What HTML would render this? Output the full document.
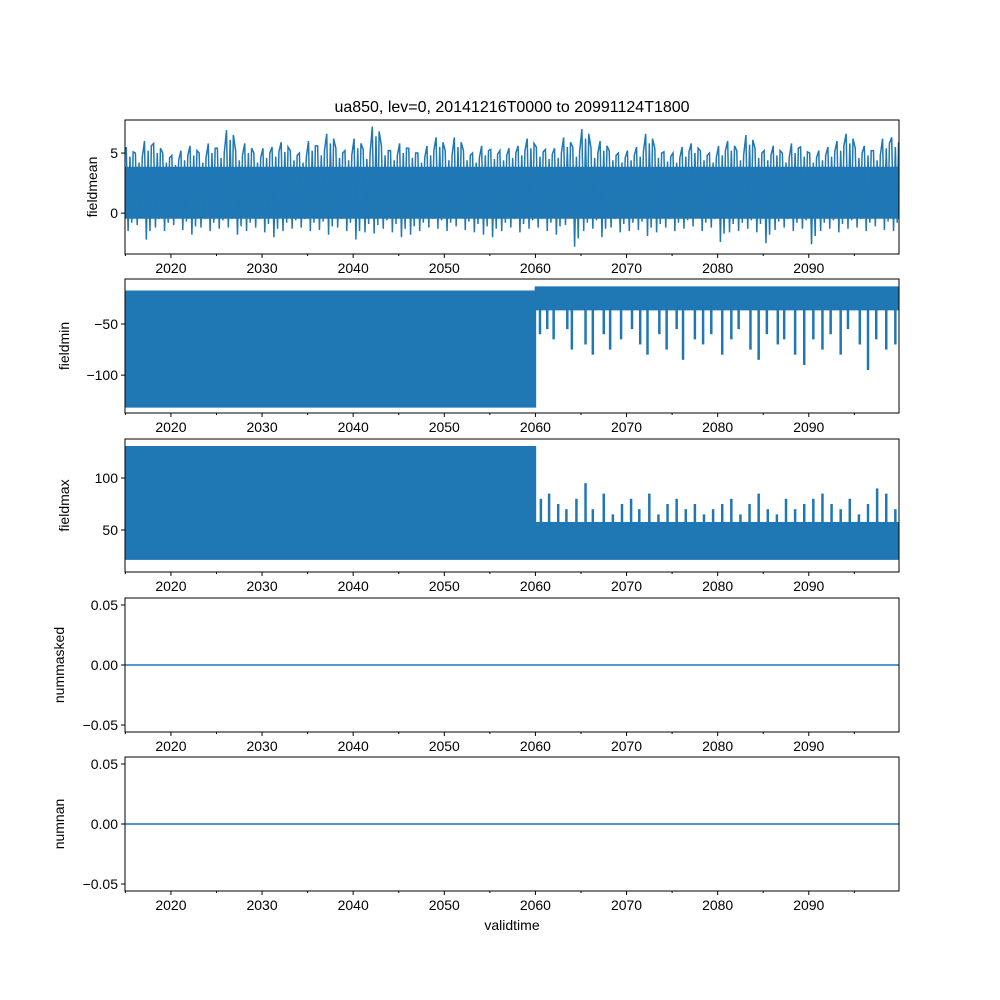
<!DOCTYPE html>
<html><head><meta charset="utf-8">
<style>
body{margin:0;background:#fff;}
svg{display:block;font-family:"Liberation Sans","DejaVu Sans",sans-serif;}
</style></head>
<body>
<svg id="fig" width="1000" height="1000" viewBox="0 0 1000 1000">
<rect width="1000" height="1000" fill="#fff"/>
<text x="512" y="112" font-size="16" text-anchor="middle">ua850, lev=0, 20141216T0000 to 20991124T1800</text>
<text x="512" y="930" font-size="14" text-anchor="middle">validtime</text>
</svg>
<script>
const years=[];for(let y=2015;y<=2099;y++)years.push(y);
const meanHi=[5.5,5,6,5.8,5,4.8,5.2,5.6,5,5.8,5.4,6.9,5.2,5.8,5,5.4,5.5,5.9,5.2,5,6,5.6,6.6,5.4,5.2,6.2,5.3,7.2,5.6,5.2,5.8,5.4,5,5.6,6.3,5.2,6.3,5.2,5,5.6,5.3,5.2,5.4,5.6,6.2,5.5,5.3,5.4,6.3,5.5,7,5.4,6,5.2,5,5.2,5.5,6.6,5.4,5.1,5,5.5,5.8,5.2,5,5.6,6,5.2,6.5,5.4,5.2,5.6,5,5.8,5.5,5,5.2,5.5,6,6.6,5.4,5.6,5.2,6.2,6.3];
const meanLo=[-1.5,-1,-2.2,-1.2,-1.5,-1,-1.4,-1.8,-1.2,-1.5,-1.3,-1.2,-1.8,-1.5,-1.2,-1.6,-2,-1.5,-1.3,-1.2,-1.5,-1.4,-1.8,-1.2,-1.5,-2.2,-1.6,-1.7,-1.3,-1.6,-2,-1.8,-1.5,-1.2,-1.3,-1.5,-1.1,-1.4,-1.6,-1.8,-2,-1.5,-1.2,-1.6,-1.3,-1.2,-1.5,-1.8,-1,-2.8,-1.5,-1.3,-2,-1.2,-1.6,-1.5,-1.4,-1.9,-1.6,-1.2,-1.5,-1.3,-1.1,-1.5,-1.2,-2.4,-1.6,-1.5,-1.3,-1.6,-2.5,-1.4,-1.2,-1.5,-1.3,-2.6,-1.5,-1.3,-1.6,-1.3,-1.2,-1.5,-1.1,-1.4,-1.5];
const meanCoreHi=3.8, meanCoreLo=-0.4;
const minHi=years.map(y=>y<2060?-18:-14);
const minLo=years.map(y=>y<2060?-131:-36);
const minSpikes=[[2060.5,-60],[2061.3,-55],[2062,-65],[2063.5,-55],[2064,-75],[2065.5,-70],[2066.3,-80],[2067.5,-60],[2068.2,-75],[2069.4,-65],[2070.6,-55],[2071.5,-70],[2072.3,-80],[2073.6,-60],[2074.4,-75],[2075.5,-55],[2076.2,-85],[2077.5,-65],[2078.4,-70],[2079.3,-60],[2080.5,-80],[2081.5,-65],[2082.3,-55],[2083.6,-75],[2084.5,-85],[2085.4,-60],[2086.6,-70],[2087.3,-65],[2088.5,-80],[2089.5,-90],[2090.5,-65],[2091.5,-75],[2092.4,-60],[2093.5,-80],[2094.3,-55],[2095.6,-70],[2096.5,-95],[2097.4,-65],[2098.5,-75],[2099.5,-70]];
const maxHi=years.map(y=>y<2060?130:57);
const maxLo=years.map(y=>22);
const maxSpikes=[[2060.6,80],[2061.5,85],[2062.5,75],[2063.4,70],[2064.5,80],[2065.5,95],[2066.3,70],[2067.5,85],[2068.5,65],[2069.5,75],[2070.5,80],[2071.4,70],[2072.5,85],[2073.5,65],[2074.5,75],[2075.5,80],[2076.5,70],[2077.5,75],[2078.5,65],[2079.5,70],[2080.5,75],[2081.5,80],[2082.5,65],[2083.5,75],[2084.5,85],[2085.5,70],[2086.5,65],[2087.5,80],[2088.5,70],[2089.5,75],[2090.5,80],[2091.5,85],[2092.5,75],[2093.5,70],[2094.5,80],[2095.5,65],[2096.5,75],[2097.5,90],[2098.5,85],[2099.5,70]];
const zeroLine=[0,0];
const xTicks=[2020,2030,2040,2050,2060,2070,2080,2090];
const xMinor=[2025,2035,2045,2055,2065,2075,2085,2095];

const NS="http://www.w3.org/2000/svg";
const svg=document.getElementById('fig');
const L=125,R=899,X0=2014.96,X1=2099.9;
const x=v=>L+(v-X0)/(X1-X0)*(R-L);
const C="#1f77b4";
function el(tag,attrs,parent){const e=document.createElementNS(NS,tag);for(const k in attrs)e.setAttribute(k,attrs[k]);(parent||svg).appendChild(e);return e;}

const panels=[
 {name:"fieldmean",top:120,bot:254,ymin:-3.4,ymax:7.75,ticks:[0,5],fmt:v=>String(v)},
 {name:"fieldmin",top:279,bot:413,ymin:-137,ymax:-6,ticks:[-100,-50],fmt:v=>"\u2212"+Math.abs(v)},
 {name:"fieldmax",top:439,bot:572,ymin:9.6,ymax:137.5,ticks:[50,100],fmt:v=>String(v)},
 {name:"nummasked",top:598,bot:732,ymin:-0.0558,ymax:0.0558,ticks:[-0.05,0,0.05],fmt:v=>(v<0?"\u2212":"")+Math.abs(v).toFixed(2)},
 {name:"numnan",top:757,bot:891,ymin:-0.0558,ymax:0.0558,ticks:[-0.05,0,0.05],fmt:v=>(v<0?"\u2212":"")+Math.abs(v).toFixed(2)}
];

panels.forEach((p,pi)=>{
 const g=el('g',{});
 
 
 const y=v=>p.bot-(v-p.ymin)/(p.ymax-p.ymin)*(p.bot-p.top);
 const cid='clip'+pi;
 const cp=el('clipPath',{id:cid},g);el('rect',{x:L,y:p.top,width:R-L,height:p.bot-p.top},cp);
 const dg=el('g',{'clip-path':'url(#'+cid+')'},g);
 
 
 function envelope(hi,lo){
   let up=[],dn=[];
   years.forEach((yr,i)=>{up.push(x(yr)+','+y(hi[i]),x(yr+1)+','+y(hi[i]));dn.push(x(yr)+','+y(lo[i]),x(yr+1)+','+y(lo[i]));});
   dn.reverse();
   const poly=el('polygon',{points:up.concat(dn).join(' '),fill:C,stroke:C,'stroke-width':1.5},dg);
   
   
 }
 function spikes(arr,base){
   arr.forEach(s=>{const ln=el('line',{x1:x(s[0]),x2:x(s[0]),y1:y(base),y2:y(s[1]),stroke:C,'stroke-width':2.5},dg);
   
   });
 }
 if(pi===0){
   const coreHi=years.map(()=>meanCoreHi),coreLo=years.map(()=>meanCoreLo);
   envelope(coreHi,coreLo);
   let pts=[];
   years.forEach((yr,i)=>{pts.push(x(yr+0.1)+','+y(meanHi[i]));pts.push(x(yr+0.3)+','+y(meanLo[i]));pts.push(x(yr+0.5)+','+y(meanHi[i]-0.8));pts.push(x(yr+0.7)+','+y(meanLo[i]+0.7));pts.push(x(yr+0.85)+','+y(meanHi[i]-0.4));});
   const pl=el('polyline',{points:pts.join(' '),fill:'none',stroke:C,'stroke-width':1.5},dg);
   
   
 } else if(pi===1){ envelope(minHi,minLo); spikes(minSpikes,-36); }
 else if(pi===2){ envelope(maxHi,maxLo); spikes(maxSpikes,50); }
 else {
   const ln=el('line',{x1:x(X0),x2:x(X1),y1:y(zeroLine[0]),y2:y(zeroLine[1]),stroke:C,'stroke-width':1.5},dg);
   
   
 }
 const fr=el('rect',{x:L,y:p.top,width:R-L,height:p.bot-p.top,fill:'none',stroke:'#000','stroke-width':1},g);
 
 
 p.ticks.forEach(v=>{
   el('line',{x1:L-4,x2:L,y1:y(v),y2:y(v),stroke:'#000'},g);
   const t=el('text',{x:L-7,y:y(v)+5,'font-size':14,'text-anchor':'end'},g);t.textContent=p.fmt(v);
   
   
 });
 xTicks.forEach(v=>{
   el('line',{x1:x(v),x2:x(v),y1:p.bot,y2:p.bot+4,stroke:'#000'},g);
   const t=el('text',{x:x(v),y:p.bot+19,'font-size':14,'text-anchor':'middle'},g);t.textContent=v;
   
   
 });
 xMinor.concat([2015]).forEach(v=>el('line',{x1:x(v),x2:x(v),y1:p.bot,y2:p.bot+2,stroke:'#000'},g));
 const yl=el('text',{x:0,y:0,'font-size':14,'text-anchor':'middle',transform:'translate('+(pi>=3?64:pi===0?97:69)+','+((p.top+p.bot)/2)+') rotate(-90)'},g);
 yl.textContent=p.name;
 
 
});
</script>
</body></html>
